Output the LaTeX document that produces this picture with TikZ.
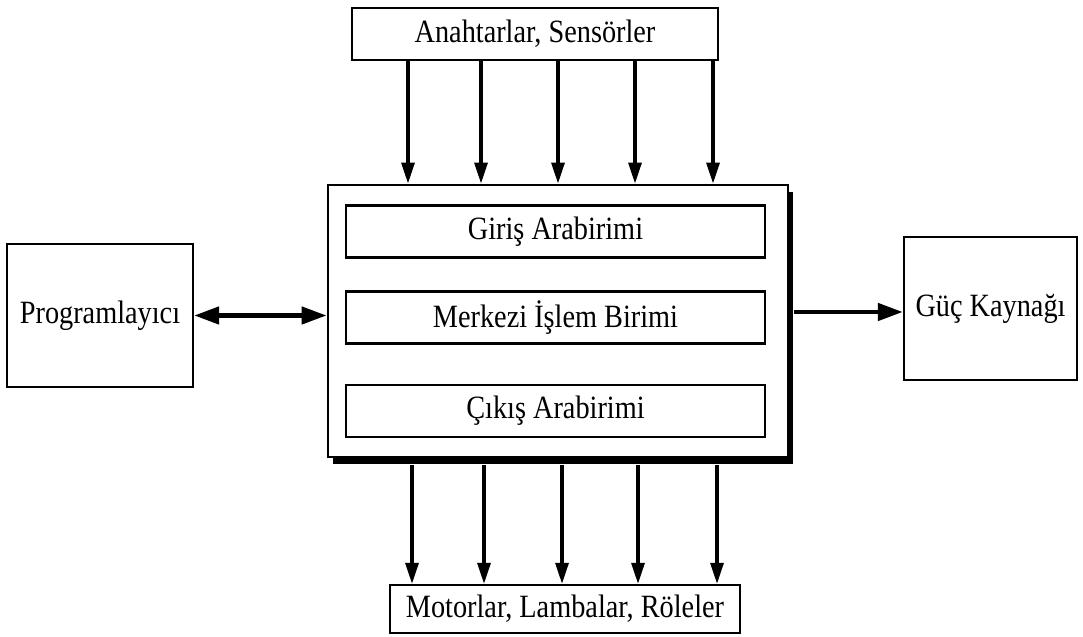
\documentclass[tikz,border=0pt]{standalone}
\usepackage{fontspec}
\setmainfont[FakeStretch=0.87]{Liberation Serif}
\usetikzlibrary{arrows.meta,positioning,shadows,calc}
\tikzset{
  unit/.style={draw=black,line width=1.3pt,fill=white,minimum width=#1,
    minimum height=1.04cm,inner sep=0pt,font=\fontsize{18.5}{21}\selectfont},
  unit/.default=7cm,
  side/.style={draw=black,line width=1.3pt,fill=white,minimum width=#1,
    minimum height=2.86cm,inner sep=0pt,font=\fontsize{18.5}{21}\selectfont},
  plcbox/.style={draw=black,line width=1.6pt,fill=white,minimum width=9.2cm,
    minimum height=5.44cm,inner sep=0pt,
    drop shadow={shadow xshift=0.1cm,shadow yshift=-0.14cm,opacity=1,fill=black}},
  sig/.style={-{Triangle[length=0.42cm,width=0.26cm]},line width=1.8pt},
  bus/.style={-{Triangle[length=0.5cm,width=0.34cm]},line width=2.6pt},
  busboth/.style={{Triangle[length=0.5cm,width=0.34cm]}-{Triangle[length=0.5cm,width=0.34cm]},line width=2.6pt},
}
\begin{document}
\begin{tikzpicture}
  \useasboundingbox (0,0) rectangle (21.66,12.74);
  % main PLC block
  \node[plcbox] (plc) at (11.16,6.32) {};
  \node[unit=8.38cm] (giris) at (11.11,8.11) {Giriş Arabirimi};
  \node[unit=8.38cm] (mib) at (11.11,6.39) {Merkezi İşlem Birimi};
  \node[unit=8.38cm] (cikis) at (11.11,4.52) {Çıkış Arabirimi};
  % surroundings
  \node[unit=7.32cm] (sens) at (10.70,12.06) {Anahtarlar, Sensörler};
  \node[unit=7cm,minimum height=0.96cm] (act) at (11.30,0.56) {Motorlar, Lambalar, Röleler};
  \node[side=3.72cm] (prog) at (2.00,6.43) {Programlayıcı};
  \node[side=3.46cm] (guc) at (19.81,6.57) {Güç Kaynağı};
  % signals
  \foreach \x in {8.16,9.62,11.16,12.70,14.26}
    \draw[sig] (\x,0 |- sens.south) -- (\x,0 |- plc.north);
  \foreach \x in {8.24,9.68,11.24,12.76,14.34}
    \draw[sig] ($(\x,0 |- plc.south)+(0,-0.14)$) -- (\x,0 |- act.north);
  \draw[busboth] (prog.east) -- (prog.east -| plc.west);
  \draw[bus] ($(guc.west -| plc.east)+(0.1,-0.07)$) -- ($(guc.west)+(0,-0.07)$);
\end{tikzpicture}
\end{document}
